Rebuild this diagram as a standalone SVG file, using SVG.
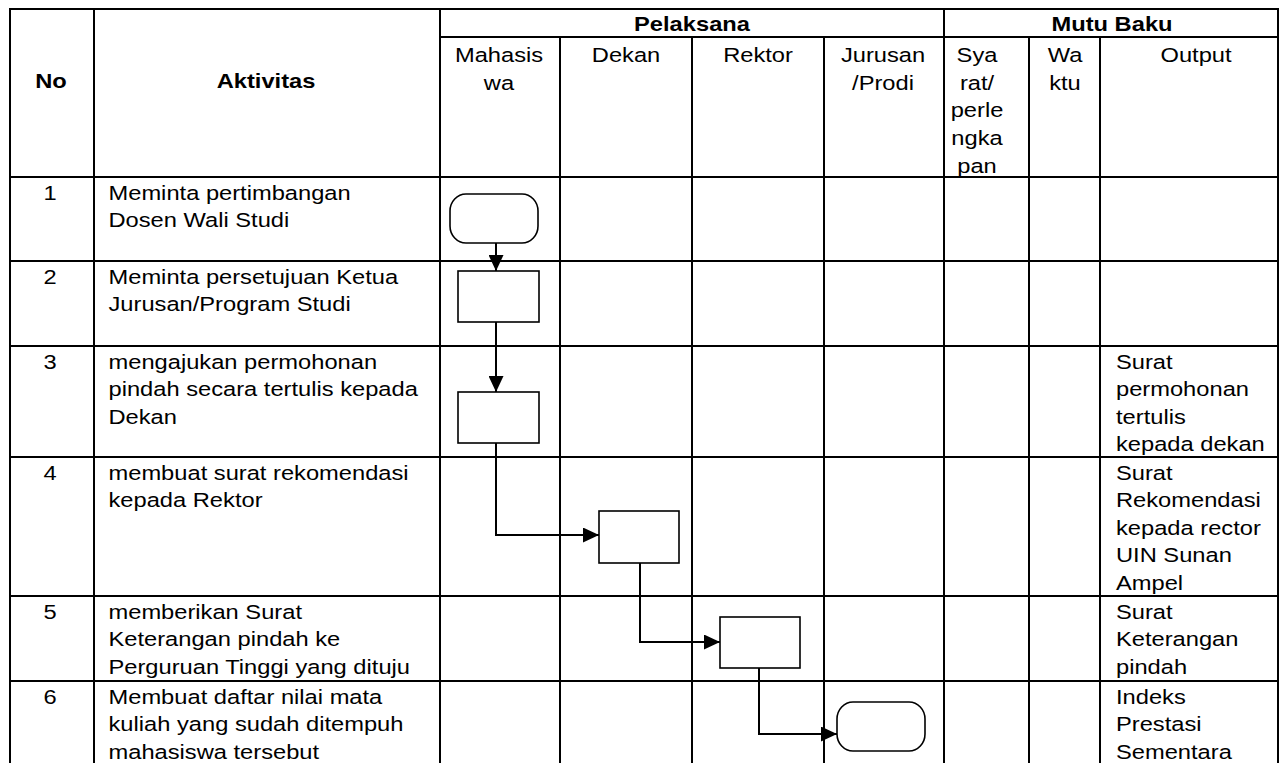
<svg xmlns="http://www.w3.org/2000/svg" width="1282" height="763" viewBox="0 0 1282 763">
  <style>
    .grid line { stroke: #000; stroke-width: 2; }
    .t { font-family: "Liberation Sans", Arial, sans-serif; font-size: 19.5px; fill: #000; }
    .b { font-weight: bold; }
    .m { text-anchor: middle; }
    .shape { fill: #fff; stroke: #000; stroke-width: 1.6; }
    .conn { fill: none; stroke: #000; stroke-width: 2; }
  </style>
  <defs>
    <marker id="arrow" markerUnits="userSpaceOnUse" markerWidth="16" markerHeight="15" refX="16" refY="7.5" orient="auto">
      <path d="M0,0 L16,7.5 L0,15 Z" fill="#000"/>
    </marker>
  </defs>

  <rect width="1282" height="763" fill="#fff"/>

  <!-- table grid -->
  <g id="grid" class="grid">
    <line x1="9" y1="9" x2="1279" y2="9"/>
    <line x1="440" y1="37" x2="1279" y2="37"/>
    <line x1="9" y1="177" x2="1279" y2="177"/>
    <line x1="9" y1="261" x2="1279" y2="261"/>
    <line x1="9" y1="346" x2="1279" y2="346"/>
    <line x1="9" y1="457" x2="1279" y2="457"/>
    <line x1="9" y1="596" x2="1279" y2="596"/>
    <line x1="9" y1="681" x2="1279" y2="681"/>
    <line x1="10" y1="8" x2="10" y2="763"/>
    <line x1="94" y1="9" x2="94" y2="763"/>
    <line x1="440" y1="8" x2="440" y2="763"/>
    <line x1="560" y1="37" x2="560" y2="763"/>
    <line x1="692" y1="37" x2="692" y2="763"/>
    <line x1="824" y1="37" x2="824" y2="763"/>
    <line x1="944" y1="8" x2="944" y2="763"/>
    <line x1="1029" y1="37" x2="1029" y2="763"/>
    <line x1="1100" y1="37" x2="1100" y2="763"/>
    <line x1="1278" y1="8" x2="1278" y2="763"/>
  </g>

  <!-- column headers -->
  <g id="header">
    <text class="t b m" transform="translate(51 88) scale(1.215 1)">No</text>
    <text class="t b m" transform="translate(266 88) scale(1.215 1)">Aktivitas</text>
    <text class="t b m" transform="translate(692 31) scale(1.215 1)">Pelaksana</text>
    <text class="t b m" transform="translate(1112 31) scale(1.215 1)">Mutu Baku</text>
    <text class="t m" transform="translate(499 62) scale(1.215 1)"><tspan x="0">Mahasis</tspan><tspan x="0" dy="27.7">wa</tspan></text>
    <text class="t m" transform="translate(626 62) scale(1.215 1)">Dekan</text>
    <text class="t m" transform="translate(758 62) scale(1.215 1)">Rektor</text>
    <text class="t m" transform="translate(883 62) scale(1.215 1)"><tspan x="0">Jurusan</tspan><tspan x="0" dy="27.7">/Prodi</tspan></text>
    <text class="t m" transform="translate(977 62) scale(1.215 1)"><tspan x="0">Sya</tspan><tspan x="0" dy="27.7">rat/</tspan><tspan x="0" dy="27.7">perle</tspan><tspan x="0" dy="27.7">ngka</tspan><tspan x="0" dy="27.7">pan</tspan></text>
    <text class="t m" transform="translate(1065 62) scale(1.215 1)"><tspan x="0">Wa</tspan><tspan x="0" dy="27.7">ktu</tspan></text>
    <text class="t m" transform="translate(1196 62) scale(1.215 1)">Output</text>
  </g>

  <!-- activity rows -->
  <g id="row1">
    <text class="t m" transform="translate(50 199.5) scale(1.215 1)">1</text>
    <text class="t" transform="translate(108.5 199.5) scale(1.215 1)"><tspan x="0">Meminta pertimbangan</tspan><tspan x="0" dy="27.5">Dosen Wali Studi</tspan></text>
  </g>
  <g id="row2">
    <text class="t m" transform="translate(50 283.5) scale(1.215 1)">2</text>
    <text class="t" transform="translate(108.5 283.5) scale(1.215 1)"><tspan x="0">Meminta persetujuan Ketua</tspan><tspan x="0" dy="27.5">Jurusan/Program Studi</tspan></text>
  </g>
  <g id="row3">
    <text class="t m" transform="translate(50 369) scale(1.215 1)">3</text>
    <text class="t" transform="translate(108.5 369) scale(1.215 1)"><tspan x="0">mengajukan permohonan</tspan><tspan x="0" dy="27.5">pindah secara tertulis kepada</tspan><tspan x="0" dy="27.5">Dekan</tspan></text>
    <text class="t" transform="translate(1116 369) scale(1.215 1)"><tspan x="0">Surat</tspan><tspan x="0" dy="27.5">permohonan</tspan><tspan x="0" dy="27.5">tertulis</tspan><tspan x="0" dy="27.5">kepada dekan</tspan></text>
  </g>
  <g id="row4">
    <text class="t m" transform="translate(50 480) scale(1.215 1)">4</text>
    <text class="t" transform="translate(108.5 480) scale(1.215 1)"><tspan x="0">membuat surat rekomendasi</tspan><tspan x="0" dy="27.5">kepada Rektor</tspan></text>
    <text class="t" transform="translate(1116 480) scale(1.215 1)"><tspan x="0">Surat</tspan><tspan x="0" dy="27.5">Rekomendasi</tspan><tspan x="0" dy="27.5">kepada rector</tspan><tspan x="0" dy="27.5">UIN Sunan</tspan><tspan x="0" dy="27.5">Ampel</tspan></text>
  </g>
  <g id="row5">
    <text class="t m" transform="translate(50 619) scale(1.215 1)">5</text>
    <text class="t" transform="translate(108.5 619) scale(1.215 1)"><tspan x="0">memberikan Surat</tspan><tspan x="0" dy="27.5">Keterangan pindah ke</tspan><tspan x="0" dy="27.5">Perguruan Tinggi yang dituju</tspan></text>
    <text class="t" transform="translate(1116 619) scale(1.215 1)"><tspan x="0">Surat</tspan><tspan x="0" dy="27.5">Keterangan</tspan><tspan x="0" dy="27.5">pindah</tspan></text>
  </g>
  <g id="row6">
    <text class="t m" transform="translate(50 704) scale(1.215 1)">6</text>
    <text class="t" transform="translate(108.5 704) scale(1.215 1)"><tspan x="0">Membuat daftar nilai mata</tspan><tspan x="0" dy="27.5">kuliah yang sudah ditempuh</tspan><tspan x="0" dy="27.5">mahasiswa tersebut</tspan></text>
    <text class="t" transform="translate(1116 704) scale(1.215 1)"><tspan x="0">Indeks</tspan><tspan x="0" dy="27.5">Prestasi</tspan><tspan x="0" dy="27.5">Sementara</tspan></text>
  </g>

  <!-- flow connectors -->
  <g id="connectors" class="conn">
    <path d="M496,243 V271" marker-end="url(#arrow)"/>
    <path d="M496,322 V392" marker-end="url(#arrow)"/>
    <path d="M496,443 V535 H599" marker-end="url(#arrow)"/>
    <path d="M640,563 V642 H720" marker-end="url(#arrow)"/>
    <path d="M759,668 V734 H837" marker-end="url(#arrow)"/>
  </g>

  <!-- flow nodes -->
  <g id="start"><rect class="shape" x="450" y="194" width="88" height="49" rx="16" ry="17"/></g>
  <g id="step2"><rect class="shape" x="458" y="271" width="81" height="51"/></g>
  <g id="step3"><rect class="shape" x="458" y="392" width="81" height="51"/></g>
  <g id="step4"><rect class="shape" x="599" y="511" width="80" height="52"/></g>
  <g id="step5"><rect class="shape" x="720" y="617" width="80" height="51"/></g>
  <g id="end"><rect class="shape" x="837" y="702" width="88" height="49" rx="16" ry="17"/></g>
</svg>
